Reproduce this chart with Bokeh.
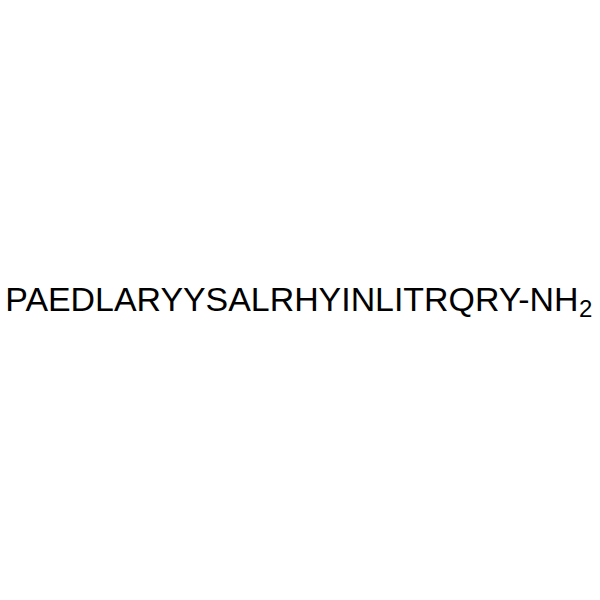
from bokeh.plotting import figure
from bokeh.models import Range1d
from bokeh.core.properties import value
from bokeh.embed import file_html
from bokeh.resources import INLINE

# data
label = ["PAEDLARYYSALRHYINLITRQRY-NH"]
subscript = ["2"]

W, H = 592, 584
p = figure(width=W, height=H, output_backend="svg", toolbar_location=None,
           x_range=Range1d(0, W), y_range=Range1d(0, H), min_border=0)
p.axis.visible = False
p.grid.visible = False
p.outline_line_color = None
p.background_fill_color = "white"
p.border_fill_color = "white"

fs_main, fs_sub = 33.9, 24
# page coords -> figure coords (figure origin at page (8, 8))
x_join = 586 - 8            # end of main text / start of subscript
base_main = H - (306 - 8)
base_sub = H - (316 - 8)

p.text(x=[x_join], y=[base_main], text=label, text_font=value("Liberation Sans"),
       text_font_size=f"{fs_main}px", text_align="right", text_baseline="alphabetic",
       text_color="black")
p.text(x=[x_join + 0.5], y=[base_sub], text=subscript, text_font=value("Liberation Sans"),
       text_font_size=f"{fs_sub}px", text_align="left", text_baseline="alphabetic",
       text_color="black")

open("out.html", "w").write(file_html(p, INLINE))
